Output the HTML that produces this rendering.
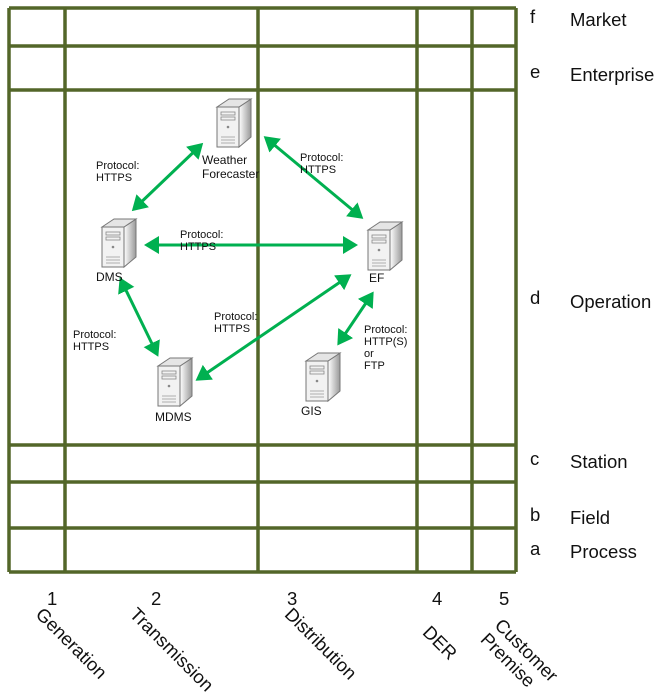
<!DOCTYPE html>
<html><head><style>
body{margin:0;background:#fff;width:661px;height:697px;overflow:hidden;position:relative;font-family:"Liberation Sans",sans-serif}
.t{position:absolute;font-size:18.5px;color:#111}
.s{position:absolute;font-size:11px;color:#111;line-height:12px}
.r{position:absolute;font-size:18.5px;color:#111;transform:rotate(45deg);transform-origin:0 0;white-space:nowrap;line-height:20px}
</style></head><body>
<svg width="661" height="697" style="position:absolute;left:0;top:0">
<defs>
<marker id="a" markerWidth="6" markerHeight="6" refX="4" refY="3" orient="auto-start-reverse" markerUnits="strokeWidth"><path d="M0,0 L5,3 L0,6 z" fill="#00b050"/></marker>
<linearGradient id="g" x1="0" x2="1"><stop offset="0" stop-color="#fff"/><stop offset="1" stop-color="#999"/></linearGradient>
<g id="srv">
<path d="M0,8 L22,8 L22,48 L0,48 z" fill="#f2f2f2" stroke="#777" stroke-width="1"/>
<path d="M22,8 L34,0 L34,38 L22,48 z" fill="url(#g)" stroke="#777"/>
<path d="M0,8 L12,0 L34,0 L22,8 z" fill="#e5e5e5" stroke="#777"/>
<rect x="4" y="13" width="14" height="3" fill="none" stroke="#888" stroke-width="0.8"/>
<rect x="4" y="18" width="14" height="3" fill="none" stroke="#888" stroke-width="0.8"/>
<circle cx="11" cy="28" r="1.3" fill="#888"/>
<path d="M4,38h14M4,41h14M4,44h14" stroke="#999" stroke-width="0.8"/>
</g>
</defs>
<rect x="65" y="90" width="352" height="355" fill="none" stroke="#999" stroke-width="0.8"/>
<g stroke="#536629" stroke-width="3.5" fill="none">
<path d="M9,8V572M65,8V572M258,8V572M417,8V572M472,8V572M516,8V572"/>
<path d="M9,8H516M9,46H516M9,90H516M9,445H516M9,482H516M9,528H516M9,572H516"/>
</g>
<g stroke="#00b050" stroke-width="3" marker-start="url(#a)" marker-end="url(#a)">
<line x1="201" y1="145" x2="134" y2="209"/>
<line x1="266" y1="138" x2="361" y2="217"/>
<line x1="147" y1="245" x2="355" y2="245"/>
<line x1="121" y1="280" x2="157" y2="354"/>
<line x1="349" y1="276" x2="198" y2="379"/>
<line x1="372" y1="294" x2="339" y2="343"/>
</g>
<use href="#srv" x="217" y="99"/>
<use href="#srv" x="102" y="219"/>
<use href="#srv" x="368" y="222"/>
<use href="#srv" x="158" y="358"/>
<use href="#srv" x="306" y="353"/>
</svg>
<div class="s" style="left:202px;top:153px;font-size:12px;line-height:14px">Weather<br>Forecaster</div>
<div class="s" style="left:96px;top:271px;font-size:12px">DMS</div>
<div class="s" style="left:369px;top:272px;font-size:12px">EF</div>
<div class="s" style="left:155px;top:411px;font-size:12px">MDMS</div>
<div class="s" style="left:301px;top:405px;font-size:12px">GIS</div>
<div class="s" style="left:96px;top:160px">Protocol:<br>HTTPS</div>
<div class="s" style="left:300px;top:152px">Protocol:<br>HTTPS</div>
<div class="s" style="left:180px;top:229px">Protocol:<br>HTTPS</div>
<div class="s" style="left:73px;top:329px">Protocol:<br>HTTPS</div>
<div class="s" style="left:214px;top:311px">Protocol:<br>HTTPS</div>
<div class="s" style="left:364px;top:324px">Protocol:<br>HTTP(S)<br>or<br>FTP</div>
<div class="t" style="left:530px;top:6px">f</div><div class="t" style="left:570px;top:9px">Market</div>
<div class="t" style="left:530px;top:61px">e</div><div class="t" style="left:570px;top:64px">Enterprise</div>
<div class="t" style="left:530px;top:287px">d</div><div class="t" style="left:570px;top:291px">Operation</div>
<div class="t" style="left:530px;top:448px">c</div><div class="t" style="left:570px;top:451px">Station</div>
<div class="t" style="left:530px;top:504px">b</div><div class="t" style="left:570px;top:507px">Field</div>
<div class="t" style="left:530px;top:538px">a</div><div class="t" style="left:570px;top:541px">Process</div>
<div class="t" style="left:47px;top:588px">1</div>
<div class="t" style="left:151px;top:588px">2</div>
<div class="t" style="left:287px;top:588px">3</div>
<div class="t" style="left:432px;top:588px">4</div>
<div class="t" style="left:499px;top:588px">5</div>
<div class="r" style="left:46px;top:604px">Generation</div>
<div class="r" style="left:140px;top:604px">Transmission</div>
<div class="r" style="left:295px;top:604px">Distribution</div>
<div class="r" style="left:433px;top:622px">DER</div>
<div class="r" style="left:505px;top:615px">Customer<br>Premise</div>
</body></html>
